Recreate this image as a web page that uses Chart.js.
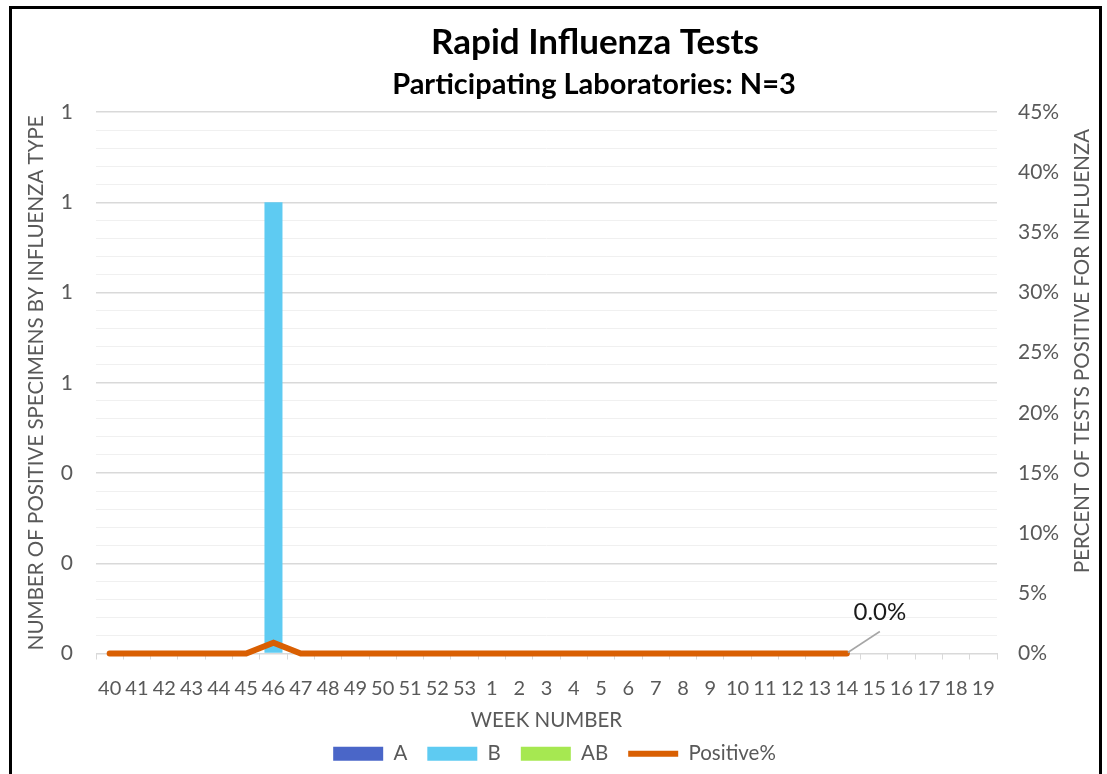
<!DOCTYPE html>
<html>
<head>
<meta charset="utf-8">
<script src="https://cdn.jsdelivr.net/npm/chart.js@4/dist/chart.umd.min.js"></script>
<style>
  body { margin: 0; background: #fff; }
  #wrap { position: relative; width: 1107px; height: 774px; overflow: hidden; }
  #frame { position: absolute; left: 9px; top: 6px; width: 1093px; height: 800px;
           border: 3px solid #000; box-sizing: border-box; pointer-events: none; }
</style>
</head>
<body>
<div id="wrap">
  <canvas id="chart" width="1107" height="774"></canvas>
  <div id="frame"></div>
</div>
<script>
const weeks = ["40","41","42","43","44","45","46","47","48","49","50","51","52","53",
  "1","2","3","4","5","6","7","8","9","10","11","12","13","14","15","16","17","18","19"];

const typeA  = [0,0,0,0,0,0,0,0,0,0,0,0,0,0,0,0,0,0,0,0,0,0,0,0,0,0,0,0];
const typeB  = [0,0,0,0,0,0,1,0,0,0,0,0,0,0,0,0,0,0,0,0,0,0,0,0,0,0,0,0];
const typeAB = [0,0,0,0,0,0,0,0,0,0,0,0,0,0,0,0,0,0,0,0,0,0,0,0,0,0,0,0];
const positivePct = [0,0,0,0,0,0,0.9,0,0,0,0,0,0,0,0,0,0,0,0,0,0,0,0,0,0,0,0,0,
  null,null,null,null,null];

const FONT = "Lato, 'Open Sans', sans-serif";
const GREY = "#595959";

// titles, right axis title (reads bottom-to-top) and the "0.0%" call-out
const extras = {
  id: "extras",
  afterDraw(chart) {
    const c = chart.ctx;
    c.save();
    c.fillStyle = "#000";
    c.textAlign = "center";
    c.textBaseline = "middle";
    c.font = "bold 35px " + FONT;
    c.fillText("Rapid Influenza Tests", 595, 43);
    c.font = "bold 29px " + FONT;
    c.fillText("Participating Laboratories: N=3", 594, 85);

    c.save();
    c.translate(1082, 351);
    c.rotate(-Math.PI / 2);
    c.fillStyle = GREY;
    c.font = "20.5px " + FONT;
    c.fillText("PERCENT OF TESTS POSITIVE FOR INFLUENZA", 0, 0);
    c.restore();

    let last = positivePct.length - 1;
    while (positivePct[last] === null) last--;
    const x = chart.scales.x.getPixelForValue(last);
    const y = chart.scales.y2.getPixelForValue(positivePct[last]);
    c.strokeStyle = "#a6a6a6";
    c.lineWidth = 1.5;
    c.beginPath();
    c.moveTo(x + 1, y - 1);
    c.lineTo(x + 33, y - 22);
    c.stroke();
    c.fillStyle = "#1a1a1a";
    c.font = "24px " + FONT;
    c.fillText(positivePct[last].toFixed(1) + "%", x + 33, y - 41);
    c.restore();
  }
};

const ctx = document.getElementById("chart");
new Chart(ctx, {
  type: "bar",
  data: {
    labels: weeks,
    datasets: [
      { label: "A", data: typeA, backgroundColor: "#4A66C8", order: 1 },
      { label: "B", data: typeB, backgroundColor: "#5ECBF2", order: 1 },
      { label: "AB", data: typeAB, backgroundColor: "#A6E851", order: 1 },
      {
        label: "Positive%",
        type: "line",
        data: positivePct,
        yAxisID: "y2",
        borderColor: "#D95F02",
        backgroundColor: "#D95F02",
        borderWidth: 6,
        borderCapStyle: "round",
        borderJoinStyle: "miter",
        pointRadius: 0,
        tension: 0,
        spanGaps: false,
        clip: false,
        order: 0,
      },
    ],
  },
  options: {
    responsive: false,
    animation: false,
    layout: { padding: { top: 112, left: 14, right: 12, bottom: 0 } },
    datasets: { bar: { categoryPercentage: 1, barPercentage: 0.66 } },
    scales: {
      x: {
        stacked: true,
        afterFit: (s) => { s.height = 70; },
        grid: { offset: true, drawOnChartArea: false, tickLength: 6, color: "#d9d9d9" },
        border: { color: "#d9d9d9" },
        ticks: { autoSkip: false, maxRotation: 0, color: GREY, padding: 17,
                 font: { family: FONT, size: 20 } },
        title: { display: true, text: "WEEK NUMBER", color: GREY,
                 font: { family: FONT, size: 20.5 }, padding: { top: 0, bottom: -9 } },
      },
      y: {
        stacked: true,
        min: 0,
        max: 1.2,
        afterFit: (s) => { s.width = 82; },
        border: { display: false },
        grid: {
          drawTicks: false,
          color: (c) => (c.index % 5 === 0 ? "#d9d9d9" : "#f0f0f0"),
          lineWidth: (c) => (c.index % 5 === 0 ? 1.5 : 1),
        },
        ticks: {
          stepSize: 0.04,
          maxTicksLimit: 100,
          padding: 23,
          color: GREY,
          font: { family: FONT, size: 21, lineHeight: 0.6 },
          callback: (v, i) => (i % 5 === 0 ? String(Math.round(v)) : ""),
        },
        title: { display: true, text: "NUMBER OF POSITIVE SPECIMENS BY INFLUENZA TYPE",
                 color: GREY, font: { family: FONT, size: 20.5 }, padding: { top: 10, bottom: 0 } },
      },
      y2: {
        position: "right",
        min: 0,
        max: 45,
        afterFit: (s) => { s.width = 98; },
        border: { display: false },
        grid: { drawOnChartArea: false, drawTicks: false },
        ticks: {
          stepSize: 5,
          padding: 21,
          color: GREY,
          font: { family: FONT, size: 21 },
          callback: (v) => v + "%",
        },
      },
    },
    plugins: {
      title: { display: false },
      tooltip: { enabled: false },
      legend: {
        position: "bottom",
        labels: {
          sort: (a, b) => a.datasetIndex - b.datasetIndex,
          usePointStyle: true,
          pointStyleWidth: 50,
          boxHeight: 14,
          padding: 20,
          color: GREY,
          font: { family: FONT, size: 20.5 },
          generateLabels(chart) {
            const items = Chart.defaults.plugins.legend.labels.generateLabels(chart);
            items.forEach((it) => {
              it.pointStyle = it.text === "Positive%" ? "line" : "rect";
              if (it.text !== "Positive%") it.lineWidth = 0;
            });
            return items;
          },
        },
      },
    },
  },
  plugins: [extras],
});
</script>
</body>
</html>
